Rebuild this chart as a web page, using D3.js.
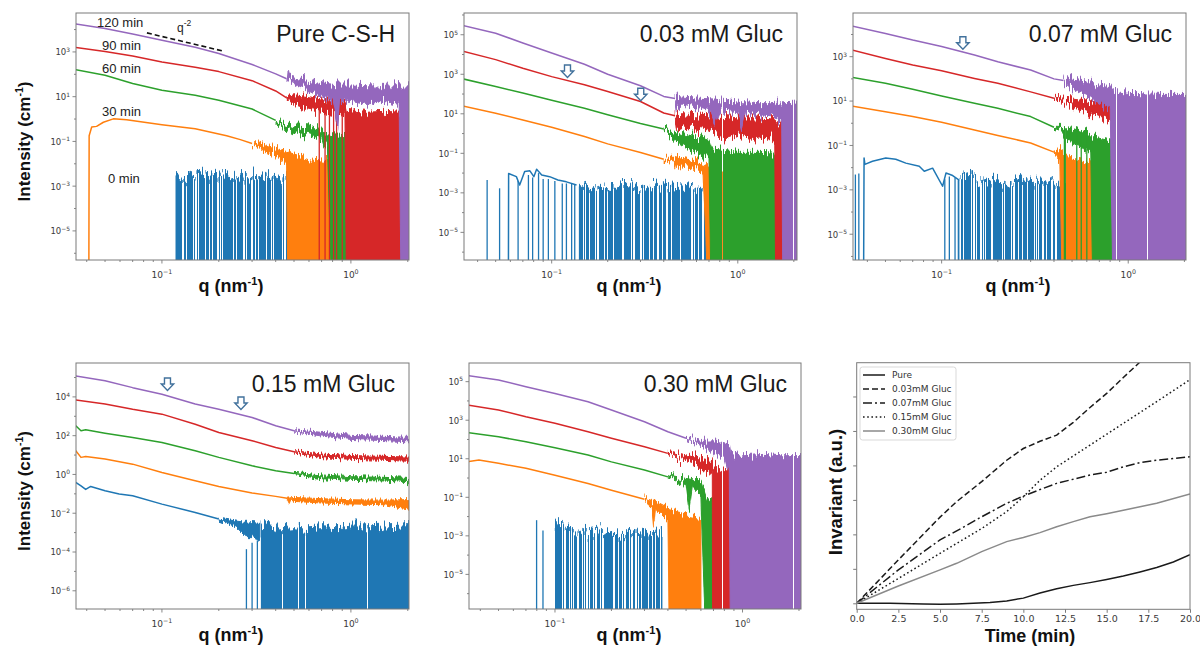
<!DOCTYPE html>
<html>
<head>
<meta charset="utf-8">
<script src="https://cdn.jsdelivr.net/npm/d3@7"></script>
<style>
  body { margin: 0; background: #fff; }
  svg { display: block; }
</style>
</head>
<body>
<svg id="fig" width="1200" height="647"></svg>
<script>
//----------------------------
// Data (q in nm^-1, I in cm^-1)
// points are [q, I] or [q, low, high] where the signal is noisy
//----------------------------
var B = 1e-9; // zero / negative intensity: falls below the axis

var times = ["0 min", "30 min", "60 min", "90 min", "120 min"];

// Pure C-S-H
var pure_0_comb = [[0.118,3.5e-3],[0.13,2e-3],[0.145,3.4e-3],[0.17,2.6e-3],[0.2,3.2e-3],[0.24,2.2e-3],[0.28,3.0e-3],[0.33,2.2e-3],[0.38,2.8e-3],[0.43,1.8e-3],[0.476,2.5e-3]];
var pure_30 = [[0.0410,B],[0.0412,0.18],[0.0425,0.44],[0.0451,0.47],[0.049,0.72],[0.0553,1.02],[0.065,0.93],[0.1,0.56],[0.15,0.37],[0.22,0.18],[0.26,0.12],[0.3,0.08],[0.33,0.055,0.075],[0.36,0.035,0.06],[0.4,0.022,0.045],[0.457,0.01,0.032],[0.466,B,0.03],[0.6,B,0.015],[0.8,B,0.012],[1.0,B,0.018],[1.26,B,0.022]];
var pure_60 = [[0.034,170],[0.05,91],[0.07,39],[0.1,19.5],[0.15,11.5],[0.2,6.9],[0.3,2.8],[0.4,0.87],[0.45,0.45,0.6],[0.5,0.28,0.45],[0.6,0.2,0.4],[0.7,0.13,0.26],[0.72,0.055,0.25],[0.75,0.1,0.22],[0.8,B,0.2],[1.2,B,0.15],[1.23,B,0.3]];
var pure_90 = [[0.034,1.65e3],[0.05,1.05e3],[0.07,660],[0.1,355],[0.15,209],[0.2,132],[0.3,52],[0.4,18],[0.457,8.9],[0.5,5,11],[0.6,3,9],[0.7,2.5,7],[0.8,2,6],[0.93,1.6,5],[0.95,B,2.2],[1.2,B,1.8],[1.5,B,2.0],[1.86,B,1.8]];
var pure_90_spikes = [[0.68,3.5],[0.73,3],[0.77,3],[0.81,2.5],[0.84,2.5],[0.9,2]];
var pure_120 = [[0.034,1.85e4],[0.05,1.12e4],[0.07,6.3e3],[0.1,3.3e3],[0.15,1.62e3],[0.2,850],[0.3,275],[0.4,105],[0.457,63],[0.462,55,68],[0.466,55,138],[0.47,55,68],[0.537,32,55],[0.6,22,48],[0.686,11.5,39],[0.75,9,35],[0.806,6.9,32],[0.85,0.5,30],[0.87,7,30],[1.0,6.9,30],[1.2,5,28],[1.48,6.9,26],[1.8,5,28],[1.85,B,26],[2.05,B,28]];
var pureYLabels = [3, 1, -1, -3, -5];
var pureSlope = [[0.0833, 7.1e3], [0.21, 1.1e3]];

// 0.03 mM Gluc
var g003_0 = [[0.0585,B],[0.0587,9.5e-3],[0.0646,6.6e-3],[0.0673,2.5e-3],[0.0716,1.2e-2],[0.0764,1.3e-2],[0.0802,6.6e-3],[0.083,1.55e-2],[0.0884,7.9e-3],[0.0975,6.6e-3],[0.108,4.5e-3],[0.12,3.6e-3],[0.136,2.5e-3]];
var g003_0_spikes = [[0.045,4.5e-3],[0.0525,1.7e-3],[0.066,4e-3],[0.075,8e-3],[0.079,6e-3],[0.085,1e-2],[0.09,5e-3],[0.096,5e-3],[0.104,4e-3],[0.114,3e-3],[0.12,3e-3],[0.128,3e-3],[0.133,2.5e-3]];
var g003_0_comb = [[0.14,2.5e-3],[0.16,1.3e-3],[0.18,2.2e-3],[0.22,1.5e-3],[0.26,2.3e-3],[0.3,1.4e-3],[0.35,2.4e-3],[0.42,1.6e-3],[0.5,2.0e-3],[0.6,1.5e-3],[0.7,2.2e-3],[0.76,1.8e-3]];
var g003_30 = [[0.033,25],[0.05,10.7],[0.07,4.9],[0.1,2.1],[0.15,0.71],[0.2,0.3],[0.3,0.11],[0.4,0.05],[0.46,0.035,0.05],[0.468,0.017,0.06],[0.5,0.026,0.05],[0.65,0.016,0.032],[0.7,B,0.025],[0.76,B,0.02]];
var g003_30_spikes = [[0.8,0.01],[0.83,0.012],[0.9,0.008]];
var g003_60 = [[0.033,600],[0.05,240],[0.07,112],[0.1,48],[0.15,19],[0.2,9],[0.3,3.2],[0.4,1.7],[0.5,0.3,0.9],[0.65,0.08,0.5],[0.7,0.1,0.4],[0.72,B,0.15],[1.0,B,0.1],[1.3,B,0.1],[1.61,B,0.09]];
var g003_90 = [[0.033,1.5e4],[0.05,5.5e3],[0.07,2.0e3],[0.1,760],[0.15,295],[0.2,135],[0.3,42],[0.4,11],[0.46,8],[0.468,2,9.5],[0.5,2.5,9],[0.7,1.5,7],[0.85,0.6,6.5],[1.0,1.0,5.5],[1.2,0.5,5.5],[1.5,0.8,5],[1.58,0.4,5],[1.6,B,4],[1.9,B,3.5]];
var g003_120 = [[0.033,3.0e5],[0.05,1.2e5],[0.07,3.8e4],[0.1,1.2e4],[0.15,3.2e3],[0.2,1.0e3],[0.3,263],[0.4,76],[0.46,60],[0.468,19,71],[0.5,35,62],[0.6,25,56],[0.7,16,51],[0.75,3.3,50],[0.8,16,45],[1.0,13,35],[1.05,2.2,32],[1.1,12,32],[1.31,10,29],[1.5,9,29],[1.72,6,32],[1.75,B,32],[2.1,B,35]];
var g003YLabels = [5, 3, 1, -1, -3, -5];
var g003Arrows = [[0.1216, 690], [0.301, 46]];

// 0.07 mM Gluc
var g007_0 = [[0.0381,B],[0.0384,0.0275],[0.0388,0.014],[0.0426,0.0195],[0.0502,0.0275],[0.0568,0.024],[0.0643,0.016],[0.0759,0.0115],[0.0807,0.0069],[0.0895,0.0095],[0.1012,0.00145],[0.1055,0.0057],[0.1146,0.0044],[0.123,0.0029],[0.1232,B]];
var g007_0_spikes = [[0.0345,4.9e-3],[0.036,5.5e-3],[0.104,3e-3],[0.11,4e-3],[0.118,3.5e-3]];
var g007_0_comb = [[0.125,3e-3],[0.14,4e-3],[0.16,2e-3],[0.19,3e-3],[0.22,1.5e-3],[0.26,3e-3],[0.3,2e-3],[0.34,2.8e-3],[0.4,1.6e-3],[0.47,2.2e-3]];
var g007_30 = [[0.033,6.0],[0.05,3.3],[0.07,2.0],[0.1,1.1],[0.15,0.5],[0.2,0.28],[0.3,0.13],[0.4,0.05],[0.43,0.025,0.06],[0.447,B,0.05],[0.5,B,0.022],[0.6,B,0.016],[0.65,B,0.014]];
var g007_60 = [[0.033,117],[0.05,63],[0.07,34],[0.1,17],[0.15,7.9],[0.2,4.7],[0.3,2.0],[0.4,0.66],[0.44,0.5,0.65],[0.5,0.15,0.6],[0.575,0.08,0.4],[0.63,0.05,0.3],[0.65,B,0.2],[0.83,B,0.12]];
var g007_60_spikes = [[0.455,0.55],[0.46,0.6],[0.53,0.3],[0.56,0.25],[0.6,0.2]];
var g007_90 = [[0.033,2.0e3],[0.05,830],[0.07,420],[0.1,230],[0.15,105],[0.2,63],[0.3,26],[0.4,13.5],[0.5,6.6,11.2],[0.6,3.5,9],[0.7,2,7],[0.82,1,5.6],[0.834,B,5.6],[0.85,B,5]];
var g007_90_spikes = [[0.94,1.5],[1.0,1.4],[1.13,1.3],[1.35,1.2]];
var g007_120 = [[0.033,2.4e4],[0.05,1.12e4],[0.07,5.6e3],[0.1,2.9e3],[0.15,1.2e3],[0.2,590],[0.3,250],[0.4,100],[0.45,85],[0.458,70,126],[0.5,40,89],[0.6,20,71],[0.7,8,52],[0.8,5,45],[0.834,B,25],[1.0,B,20],[1.5,B,18],[2.06,B,18]];
var g007YLabels = [3, 1, -1, -3, -5];
var g007Arrows = [[0.130, 2.15e3]];

// 0.15 mM Gluc
var g015_0 = [[0.034,0.4],[0.035,0.39],[0.0373,0.26],[0.0395,0.17],[0.042,0.24],[0.05,0.145],[0.0594,0.098],[0.07,0.079],[0.1,0.0295],[0.15,0.011],[0.2,0.005],[0.247,0.0022,0.0035],[0.278,0.0007,0.003],[0.3,0.0007,0.0033],[0.33,0.0005,0.003]];
var g015_0_spikes = [[0.28,1.4e-4],[0.3,3e-4],[0.32,4e-4]];
var g015_0_comb = [[0.334,2.2e-3],[0.4,1.5e-3],[0.5,1.8e-3],[0.6,1.4e-3],[0.7,1.6e-3],[0.85,1.4e-3],[1.0,1.7e-3],[1.3,1.8e-3],[1.6,2.0e-3],[2.05,2.3e-3]];
var g015_30 = [[0.034,17],[0.035,16.6],[0.0373,7.6],[0.0395,8.5],[0.05,6.2],[0.07,3.4],[0.1,1.26],[0.15,0.47],[0.2,0.24],[0.3,0.11],[0.4,0.074],[0.46,0.06],[0.472,0.036,0.062],[0.48,0.055],[0.5,0.046,0.058],[0.7,0.038,0.05],[1.0,0.034,0.044],[1.5,0.031,0.042],[2.05,0.018,0.045]];
var g015_60 = [[0.034,330],[0.035,324],[0.0373,178],[0.0395,200],[0.05,135],[0.07,81],[0.1,44.7],[0.15,16.6],[0.2,7.6],[0.3,2.8],[0.4,1.55],[0.5,1.12],[0.7,0.68,0.84],[1.0,0.56,0.68],[1.5,0.52,0.63],[2.05,0.42,0.55]];
var g015_90 = [[0.034,7.3e3],[0.05,4.3e3],[0.07,2.3e3],[0.1,1.29e3],[0.15,390],[0.2,145],[0.3,55],[0.4,24.5],[0.5,14.8],[0.7,8.3,10],[1.0,6.8,8.4],[1.5,6,7.6],[2.05,5.4,7]];
var g015_120 = [[0.034,1.25e5],[0.05,6.8e4],[0.07,3.0e4],[0.1,1.38e4],[0.15,4.3e3],[0.2,2.3e3],[0.3,870],[0.4,324],[0.5,178],[0.7,108,132],[1.0,72,92],[1.5,63,82],[2.05,54,72]];
var g015YLabels = [4, 2, 0, -2, -4, -6];
var g015Arrows = [[0.107, 2.14e4], [0.262, 2.24e3]];

// 0.30 mM Gluc
var g030_0_spikes = [[0.0798,6.5e-3],[0.0863,1.9e-3]];
var g030_0_comb = [[0.1,3.5e-3],[0.103,5.4e-3],[0.11,3e-3],[0.119,1.9e-3],[0.14,1.7e-3],[0.152,1.3e-3],[0.18,1.7e-3],[0.202,1.2e-3],[0.24,1.0e-3],[0.27,1.6e-3],[0.31,1.2e-3],[0.374,1.5e-3]];
var g030_30 = [[0.034,6.9],[0.0393,8.5],[0.05,5.8],[0.07,3.2],[0.1,1.41],[0.15,0.52],[0.2,0.23],[0.3,0.08],[0.33,0.035,0.06],[0.337,0.0035,0.055],[0.345,0.03,0.055],[0.4,0.0065,0.026],[0.408,B,0.02],[0.5,B,0.012],[0.6,B,0.009]];
var g030_60 = [[0.034,234],[0.05,138],[0.07,76],[0.1,37],[0.15,15.5],[0.2,6.9],[0.3,2.6],[0.4,1.15],[0.5,0.5,0.75],[0.52,0.026,0.7],[0.54,0.4,0.65],[0.6,0.13,0.65],[0.64,B,0.09],[0.693,B,0.07]];
var g030_90 = [[0.034,6.2e3],[0.05,3.4e3],[0.07,1.5e3],[0.1,690],[0.15,251],[0.2,115],[0.3,42],[0.4,19],[0.5,8,11],[0.55,6,13],[0.6,3.2,10.5],[0.69,2.5,8],[0.693,B,4],[0.8,B,2.5],[0.92,B,1.8]];
var g030_90_spikes = [[0.9,1.1],[0.96,1.0],[1.0,0.9]];
var g030_120 = [[0.034,2.1e5],[0.05,1.23e5],[0.07,5.5e4],[0.1,2.45e4],[0.15,9.1e3],[0.2,3.4e3],[0.3,830],[0.4,250],[0.5,115],[0.6,55,70],[0.7,23,76],[0.8,15,60],[0.85,1.5,50],[0.862,B,20],[1.0,B,12.6],[1.3,B,15],[1.6,B,12.6],[2.1,B,13]];
var g030YLabels = [5, 3, 1, -1, -3, -5];

var qLabels = [-1, 0];

// Invariant vs time (a.u.)
var invPure = [[0,0],[2,0],[4,-0.02],[5,-0.03],[6,-0.02],[8,0.02],[9,0.07],[10,0.15],[11,0.3],[12,0.42],[13,0.52],[14,0.6],[15,0.69],[16,0.79],[17,0.91],[18,1.04],[19,1.2],[20,1.41]];
var inv003 = [[0,0],[1,0.5],[2.5,1.26],[5,2.5],[6,2.95],[7.5,3.53],[9,4.15],[10,4.49],[11,4.7],[12,4.88],[13,5.25],[14,5.68],[15,6.09],[16,6.55],[17,7.0],[18,7.5]];
var inv007 = [[0,0],[2.5,0.97],[5,1.84],[6,2.1],[7.5,2.51],[9,2.9],[10,3.11],[11,3.3],[12,3.48],[13,3.6],[14,3.72],[15,3.8],[16,3.96],[17,4.08],[18,4.15],[19,4.2],[20,4.25]];
var inv015 = [[0,0],[2.5,0.72],[5,1.45],[7.5,2.17],[9,2.66],[10,3.09],[11,3.57],[12,3.96],[14,4.59],[16,5.22],[18,5.85],[20,6.49]];
var inv030 = [[0,0],[2.5,0.5],[5,0.97],[6,1.16],[7.5,1.5],[9,1.79],[10,1.91],[11,2.05],[12,2.22],[13,2.37],[14,2.51],[15,2.6],[16,2.7],[17,2.8],[18,2.9],[20,3.17]];
var invNames = ["Pure", "0.03mM Gluc", "0.07mM Gluc", "0.15mM Gluc", "0.30mM Gluc"];
var timeTicks = [0, 2.5, 5, 7.5, 10, 12.5, 15, 17.5, 20];
var invTicks = [0, 1, 2, 3, 4, 5, 6];

//----------------------------
// Panels
//----------------------------
var colors = ["#1f77b4", "#ff7f0e", "#2ca02c", "#d62728", "#9467bd"];
var frameColor = "#7a7a7a";

var saxsPanels = [
    { title: "Pure C-S-H", box: [76, 13, 409, 260], qDomain: [0.0351, 2.03], iDomain: [5.0e-7, 5.5e4],
      yLabels: pureYLabels, comb: "sparse",
      bands: [null, pure_30, pure_60, pure_90, pure_120],
      combs: [pure_0_comb, null, null, null, null],
      spikes: [null, null, null, pure_90_spikes, null],
      arrows: [], yTitle: true, xTitleX: 231 },
    { title: "0.03 mM Gluc", box: [464, 13, 797, 260], qDomain: [0.0338, 2.08], iDomain: [4.0e-7, 1.26e6],
      yLabels: g003YLabels, comb: "medium",
      bands: [g003_0, g003_30, g003_60, g003_90, g003_120],
      combs: [g003_0_comb, null, null, null, null],
      spikes: [g003_0_spikes, g003_30_spikes, null, null, null],
      arrows: g003Arrows, yTitle: false, xTitleX: 629 },
    { title: "0.07 mM Gluc", box: [853, 13, 1186, 260], qDomain: [0.0335, 2.04], iDomain: [6.9e-7, 9.3e4],
      yLabels: g007YLabels, comb: "sparse",
      bands: [g007_0, g007_30, g007_60, g007_90, g007_120],
      combs: [g007_0_comb, null, null, null, null],
      spikes: [g007_0_spikes, null, g007_60_spikes, g007_90_spikes, null],
      arrows: g007Arrows, yTitle: false, xTitleX: 1018 },
    { title: "0.15 mM Gluc", box: [76, 363, 409, 609], qDomain: [0.0351, 2.03], iDomain: [1.15e-7, 5.6e5],
      yLabels: g015YLabels, comb: "dense",
      bands: [g015_0, g015_30, g015_60, g015_90, g015_120],
      combs: [g015_0_comb, null, null, null, null],
      spikes: [g015_0_spikes, null, null, null, null],
      arrows: g015Arrows, yTitle: true, xTitleX: 231 },
    { title: "0.30 mM Gluc", box: [469, 363, 801, 609], qDomain: [0.0348, 2.05], iDomain: [1.6e-7, 9.3e5],
      yLabels: g030YLabels, comb: "sparse",
      bands: [null, g030_30, g030_60, g030_90, g030_120],
      combs: [g030_0_comb, null, null, null, null],
      spikes: [g030_0_spikes, null, null, g030_90_spikes, null],
      arrows: [], yTitle: false, xTitleX: 629 }
];

var svg = d3.select("#fig");
var defs = svg.append("defs");

//----------------------------
// Texture filters for the noisy parts (drawing style only)
//----------------------------
function newFilter(id) {
    return defs.append("filter").attr("id", id)
        .attr("filterUnits", "userSpaceOnUse")
        .attr("x", 0).attr("y", 0).attr("width", 1200).attr("height", 647)
        .attr("color-interpolation-filters", "sRGB");
}
function thresholdTable(t) {
    var v = [];
    for (var i = 0; i < 50; i++) v.push(i / 50 < t ? 0 : 1);
    return v.join(" ");
}
// jagged vertical jitter of an edge, then close the gaps between columns
function addJitter(f, freq, scale, seed, input, result) {
    f.append("feTurbulence").attr("type", "fractalNoise").attr("baseFrequency", freq)
        .attr("numOctaves", 2).attr("seed", seed).attr("result", "t" + seed);
    f.append("feColorMatrix").attr("in", "t" + seed).attr("type", "matrix")
        .attr("values", "1 0 0 0 0  0 0 0 0 0.5  0 0 0 0 0  0 0 0 0 1").attr("result", "m" + seed);
    f.append("feDisplacementMap").attr("in", input).attr("in2", "m" + seed)
        .attr("scale", scale).attr("xChannelSelector", "G").attr("yChannelSelector", "R")
        .attr("result", "d" + seed);
    f.append("feMorphology").attr("in", "d" + seed).attr("operator", "dilate")
        .attr("radius", "0.01 1.1").attr("result", result);
}
// vertical white gaps
function addGaps(f, t, seed, input) {
    f.append("feTurbulence").attr("type", "fractalNoise").attr("baseFrequency", "0.45 0")
        .attr("numOctaves", 2).attr("seed", seed).attr("result", "g" + seed);
    f.append("feComponentTransfer").attr("in", "g" + seed).attr("result", "gm" + seed)
        .append("feFuncA").attr("type", "discrete").attr("tableValues", thresholdTable(t));
    f.append("feComposite").attr("in", input).attr("in2", "gm" + seed).attr("operator", "in");
}

var fRough = newFilter("rough");
addJitter(fRough, "0.65 0.02", 9, 3, "SourceGraphic", "jit");

var fRoughGaps = newFilter("roughGaps");
addJitter(fRoughGaps, "0.65 0.02", 20, 3, "SourceGraphic", "jit");
addGaps(fRoughGaps, 0.27, 9, "jit");

var fCombTop = newFilter("combTop");
addJitter(fCombTop, "0.55 0.02", 26, 5, "SourceGraphic", "jit");

var combThreshold = { sparse: 0.46, medium: 0.43, dense: 0.28 };
Object.keys(combThreshold).forEach(function (k, i) {
    var f = newFilter("stripes-" + k);
    addGaps(f, combThreshold[k], 21 + i, "SourceGraphic");
});

function expText(e) {
    return e < 0 ? "\u2212" + (-e) : String(e);
}

function tenPower(sel, e, size) {
    sel.append("tspan").text("10");
    sel.append("tspan").attr("dy", -size * 0.42).attr("font-size", size * 0.7).text(expText(e));
}

function drawArrow(g, px, py) {
    var top = py - 12.5;
    var pts = [[px - 3, top], [px + 3, top], [px + 3, top + 6], [px + 6.2, top + 6], [px, py],
               [px - 6.2, top + 6], [px - 3, top + 6]];
    g.append("polygon").attr("points", pts.map(function (p) { return p.join(","); }).join(" "))
        .attr("fill", "#fff").attr("stroke", "#41719c").attr("stroke-width", 1.4)
        .attr("stroke-linejoin", "miter");
}

saxsPanels.forEach(function (p, pi) {
    var x0 = p.box[0], y0 = p.box[1], x1 = p.box[2], y1 = p.box[3];
    var x = d3.scaleLog().domain(p.qDomain).range([x0, x1]);
    var y = d3.scaleLog().domain(p.iDomain).range([y1, y0]);
    var g = svg.append("g");

    defs.append("clipPath").attr("id", "clip" + pi)
        .append("rect").attr("x", x0).attr("y", y0).attr("width", x1 - x0).attr("height", y1 - y0);
    var plot = g.append("g").attr("clip-path", "url(#clip" + pi + ")");

    var band = d3.area()
        .x(function (d) { return x(d[0]); })
        .y0(function (d) { return y(d[1]); })
        .y1(function (d) { return y(d.length > 2 ? d[2] : d[1]); });
    var combArea = d3.area()
        .x(function (d) { return x(d[0]); })
        .y0(y(B))
        .y1(function (d) { return y(d[1]); });
    var line = d3.line()
        .x(function (d) { return x(d[0]); })
        .y(function (d) { return y(d[1]); });

    for (var k = 0; k < 5; k++) {
        var c = colors[k];
        if (p.combs[k]) {
            var cg = plot.append("g").attr("filter", "url(#combTop)");
            cg.append("path").attr("d", combArea(p.combs[k]))
                .attr("fill", c).attr("filter", "url(#stripes-" + p.comb + ")");
            cg.append("path").attr("d", line(p.combs[k]))
                .attr("fill", "none").attr("stroke", c).attr("stroke-width", 1.0);
        }
        if (p.bands[k]) {
            var arr = p.bands[k];
            var first = arr.findIndex(function (d) { return d.length > 2; });
            var smooth = first < 0 ? arr : arr.slice(0, first);
            var noisy = first < 0 ? [] : arr.slice(Math.max(first - 1, 0));
            if (smooth.length > 1) {
                plot.append("path").attr("d", line(smooth))
                    .attr("fill", "none").attr("stroke", c).attr("stroke-width", 1.5)
                    .attr("stroke-linejoin", "round");
            }
            if (noisy.length > 1) {
                var toZero = noisy.some(function (d) { return d[1] === B; });
                plot.append("path").attr("d", band(noisy))
                    .attr("fill", c).attr("stroke", c).attr("stroke-width", 1.0)
                    .attr("stroke-linejoin", "round")
                    .attr("filter", toZero ? "url(#roughGaps)" : "url(#rough)");
            }
        }
        if (p.spikes[k]) {
            plot.selectAll(null).data(p.spikes[k]).enter().append("line")
                .attr("x1", function (d) { return x(d[0]); })
                .attr("x2", function (d) { return x(d[0]); })
                .attr("y1", function (d) { return y(d[1]); })
                .attr("y2", y(B))
                .attr("stroke", c).attr("stroke-width", 1.3);
        }
    }

    // ticks: x
    var ticks = g.append("g").attr("stroke", frameColor).attr("stroke-width", 0.9);
    var eLo = Math.floor(Math.log10(p.qDomain[0])), eHi = Math.ceil(Math.log10(p.qDomain[1]));
    for (var e = eLo; e <= eHi; e++) {
        for (var m = 1; m <= 9; m++) {
            var q = m * Math.pow(10, e);
            if (q < p.qDomain[0] || q > p.qDomain[1]) continue;
            var len = m === 1 ? 3.5 : 2;
            ticks.append("line").attr("x1", x(q)).attr("x2", x(q)).attr("y1", y1).attr("y2", y1 + len);
        }
    }
    qLabels.forEach(function (e) {
        var t = g.append("text").attr("x", x(Math.pow(10, e))).attr("y", y1 + 18)
            .attr("text-anchor", "middle").attr("font-family", "DejaVu Sans")
            .attr("font-size", 9).attr("fill", "#3a3a3a");
        tenPower(t, e, 9);
    });
    // ticks: y (every decade, labelled every second)
    var iLo = Math.ceil(Math.log10(p.iDomain[0])), iHi = Math.floor(Math.log10(p.iDomain[1]));
    for (var ie = iLo; ie <= iHi; ie++) {
        var major = p.yLabels.indexOf(ie) >= 0;
        var yy = y(Math.pow(10, ie));
        ticks.append("line").attr("x1", x0).attr("x2", x0 - (major ? 3.5 : 2)).attr("y1", yy).attr("y2", yy);
        if (major) {
            var t = g.append("text").attr("x", x0 - 6).attr("y", yy + 3.4)
                .attr("text-anchor", "end").attr("font-family", "DejaVu Sans")
                .attr("font-size", 8.5).attr("fill", "#3a3a3a");
            tenPower(t, ie, 8.5);
        }
    }

    // frame
    g.append("rect").attr("x", x0).attr("y", y0).attr("width", x1 - x0).attr("height", y1 - y0)
        .attr("fill", "none").attr("stroke", frameColor).attr("stroke-width", 1);

    // title
    g.append("text").attr("x", x1 - 14).attr("y", y0 + 29)
        .attr("text-anchor", "end").attr("font-family", "Liberation Sans, Arial, sans-serif")
        .attr("font-size", 23).attr("fill", "#1a1a1a").text(p.title);

    // arrows
    p.arrows.forEach(function (a) { drawArrow(g, x(a[0]), y(a[1])); });

    // axis titles
    var xt = g.append("text").attr("x", p.xTitleX).attr("y", y1 + 32)
        .attr("text-anchor", "middle").attr("font-family", "Liberation Sans, Arial, sans-serif")
        .attr("font-weight", "bold").attr("font-size", 18).attr("fill", "#111");
    xt.append("tspan").text("q (nm");
    xt.append("tspan").attr("dy", -7).attr("font-size", 11).text("-1");
    xt.append("tspan").attr("dy", 7).text(")");

    if (p.yTitle) {
        var cy = (y0 + y1) / 2 + 5;
        var yt = g.append("text").attr("transform", "translate(30," + cy + ") rotate(-90)")
            .attr("text-anchor", "middle").attr("font-family", "Liberation Sans, Arial, sans-serif")
            .attr("font-weight", "bold").attr("font-size", 17).attr("fill", "#111");
        yt.append("tspan").text("Intensity (cm");
        yt.append("tspan").attr("dy", -7).attr("font-size", 10.5).text("-1");
        yt.append("tspan").attr("dy", 7).text(")");
    }

    // pure panel extras: time labels and q^-2 guide
    if (pi === 0) {
        var lab = [[times[4], 97, 27], [times[3], 102, 50], [times[2], 102, 73], [times[1], 102, 116], [times[0], 108, 183]];
        lab.forEach(function (l) {
            g.append("text").attr("x", l[1]).attr("y", l[2])
                .attr("font-family", "Liberation Sans, Arial, sans-serif")
                .attr("font-size", 13).attr("fill", "#222").text(l[0]);
        });
        g.append("line")
            .attr("x1", x(pureSlope[0][0])).attr("y1", y(pureSlope[0][1]))
            .attr("x2", x(pureSlope[1][0])).attr("y2", y(pureSlope[1][1]))
            .attr("stroke", "#111").attr("stroke-width", 1.6).attr("stroke-dasharray", "5,3");
        var qt = g.append("text").attr("x", 177).attr("y", 32)
            .attr("font-family", "Liberation Sans, Arial, sans-serif").attr("font-size", 12).attr("fill", "#222");
        qt.append("tspan").text("q");
        qt.append("tspan").attr("dy", -6).attr("font-size", 8.5).text("-2");
    }
});

//----------------------------
// Invariant panel
//----------------------------
(function () {
    var x0 = 856.7, y0 = 362.7, x1 = 1190, y1 = 609.3;
    var x = d3.scaleLinear().domain([0, 20]).range([x0, x1]);
    var y = d3.scaleLinear().domain([-0.174, 6.98]).range([y1, y0]);
    var g = svg.append("g");
    defs.append("clipPath").attr("id", "clipInv")
        .append("rect").attr("x", x0).attr("y", y0).attr("width", x1 - x0).attr("height", y1 - y0);
    var plot = g.append("g").attr("clip-path", "url(#clipInv)");

    var styles = [
        { color: "#1a1a1a", dash: null },
        { color: "#1a1a1a", dash: "6,3" },
        { color: "#1a1a1a", dash: "9,3,2,3" },
        { color: "#1a1a1a", dash: "1.6,2.6" },
        { color: "#8a8a8a", dash: null }
    ];
    var series = [invPure, inv003, inv007, inv015, inv030];
    var line = d3.line().x(function (d) { return x(d[0]); }).y(function (d) { return y(d[1]); });

    series.forEach(function (s, i) {
        plot.append("path").attr("d", line(s)).attr("fill", "none")
            .attr("stroke", styles[i].color).attr("stroke-width", 1.5)
            .attr("stroke-dasharray", styles[i].dash);
    });

    g.append("g").attr("transform", "translate(0," + y1 + ")")
        .call(d3.axisBottom(x).tickValues(timeTicks).tickFormat(d3.format(".1f")).tickSize(3.5).tickPadding(2.5))
        .call(function (a) {
            a.select(".domain").remove();
            a.selectAll("line").attr("stroke", frameColor);
            a.selectAll("text").attr("font-family", "DejaVu Sans").attr("font-size", 9.5).attr("fill", "#3a3a3a");
        });
    g.append("g").attr("transform", "translate(" + x0 + ",0)")
        .call(d3.axisLeft(y).tickValues(invTicks).tickFormat("").tickSize(3.5))
        .call(function (a) {
            a.select(".domain").remove();
            a.selectAll("line").attr("stroke", frameColor);
        });

    g.append("rect").attr("x", x0).attr("y", y0).attr("width", x1 - x0).attr("height", y1 - y0)
        .attr("fill", "none").attr("stroke", frameColor).attr("stroke-width", 1);

    // legend
    var lg = g.append("g");
    lg.append("rect").attr("x", 860).attr("y", 367).attr("width", 96).attr("height", 73)
        .attr("rx", 2.5).attr("fill", "#fff").attr("stroke", "#cfcfcf").attr("stroke-width", 0.8);
    invNames.forEach(function (n, i) {
        var ly = 375 + i * 14;
        lg.append("line").attr("x1", 863).attr("x2", 885).attr("y1", ly).attr("y2", ly)
            .attr("stroke", styles[i].color).attr("stroke-width", 1.5)
            .attr("stroke-dasharray", styles[i].dash);
        lg.append("text").attr("x", 892).attr("y", ly + 3.3)
            .attr("font-family", "DejaVu Sans").attr("font-size", 9).attr("fill", "#333").text(n);
    });

    g.append("text").attr("x", 1030).attr("y", 642)
        .attr("text-anchor", "middle").attr("font-family", "Liberation Sans, Arial, sans-serif")
        .attr("font-weight", "bold").attr("font-size", 18).attr("fill", "#111").text("Time (min)");
    g.append("text").attr("transform", "translate(842,492) rotate(-90)")
        .attr("text-anchor", "middle").attr("font-family", "Liberation Sans, Arial, sans-serif")
        .attr("font-weight", "bold").attr("font-size", 18.5).attr("fill", "#111").text("Invariant (a.u.)");
})();
</script>
</body>
</html>
